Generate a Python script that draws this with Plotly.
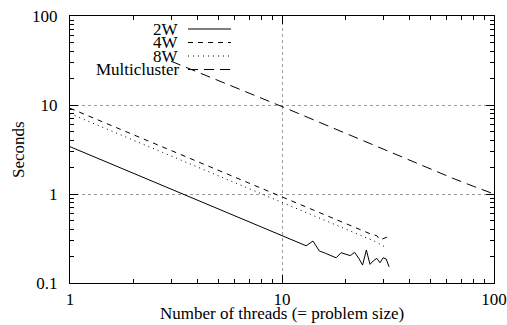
import plotly.graph_objects as go

# ---- data ----
x_2w = list(range(1, 33))
y_2w = [3.40, 1.70, 1.13, 0.85, 0.68, 0.567, 0.486, 0.425, 0.378, 0.345,
        0.309, 0.283, 0.262, 0.296, 0.229, 0.216, 0.204, 0.192, 0.219, 0.210,
        0.203, 0.221, 0.190, 0.159, 0.235, 0.162, 0.178, 0.189, 0.169, 0.192,
        0.186, 0.152]

x_4w = list(range(1, 33))
y_4w = [9.2, 4.6, 3.07, 2.30, 1.84, 1.53, 1.31, 1.15, 1.02, 0.92,
        0.84, 0.77, 0.71, 0.66, 0.61, 0.575, 0.54, 0.51, 0.485, 0.46,
        0.44, 0.42, 0.40, 0.385, 0.37, 0.358, 0.348, 0.34, 0.305, 0.315,
        0.325, 0.335]

x_8w = list(range(1, 32))
y_8w = [8.0, 4.0, 2.67, 2.0, 1.6, 1.33, 1.14, 1.0, 0.89, 0.80,
        0.73, 0.67, 0.62, 0.57, 0.53, 0.50, 0.47, 0.44, 0.42, 0.40,
        0.38, 0.36, 0.35, 0.33, 0.32, 0.31, 0.30, 0.285, 0.275, 0.262,
        0.25]

x_mc = [3, 4, 6, 8, 10, 12, 16, 20, 24, 32, 40, 48, 64, 80, 100]
y_mc = [31.0, 23.5, 16.0, 12.0, 9.6, 8.0, 6.0, 4.8, 4.0, 3.0, 2.35, 1.98, 1.5, 1.22, 1.0]

series_names = ["2W", "4W", "8W", "Multicluster"]
series_dash = ["solid", "5px,5px", "1px,4px", "10px,6px"]

x_ticks = [1, 10, 100]
x_tick_labels = ["1", "10", "100"]
y_ticks = [0.1, 1, 10, 100]
y_tick_labels = ["0.1", "1", "10", "100"]

x_title = "Number of threads (= problem size)"
y_title = "Seconds"

x_minor = [m * 10 ** d for d in range(0, 2) for m in range(2, 10)]
y_minor = [m * 10 ** d for d in range(-1, 2) for m in range(2, 10)]

FONT = "Liberation Serif, Times New Roman, serif"
FS = 17

fig = go.Figure()
for name, xs, ys, dash in zip(series_names,
                              [x_2w, x_4w, x_8w, x_mc],
                              [y_2w, y_4w, y_8w, y_mc],
                              series_dash):
    fig.add_trace(go.Scatter(x=xs, y=ys, mode="lines", name=name,
                             line=dict(color="black", width=1, dash=dash),
                             showlegend=False))

W, H = 507, 325
L, R, T, B = 70, 13, 16, 42
pw, ph = W - L - R, H - T - B

# gnuplot-style key: right aligned text followed by line sample
key_y = [29, 42.5, 56, 69.5]
for name, dash, ky in zip(series_names, series_dash, key_y):
    yp = (H - B - ky) / ph
    fig.add_annotation(x=(181 - L) / pw, y=yp, xref="paper", yref="paper",
                       text=name, showarrow=False, xanchor="right",
                       yanchor="middle", font=dict(family=FONT, size=FS, color="black"))
    fig.add_shape(type="line", xref="paper", yref="paper",
                  x0=(188 - L) / pw, x1=(231 - L) / pw, y0=yp, y1=yp,
                  line=dict(color="black", width=1, dash=dash))

# axis titles
fig.add_annotation(x=(282 - L) / pw, y=(H - B - 313) / ph, xref="paper", yref="paper",
                   text=x_title, showarrow=False, xanchor="center", yanchor="middle",
                   font=dict(family=FONT, size=FS, color="black"))
fig.add_annotation(x=(18 - L) / pw, y=(H - B - 150) / ph, xref="paper", yref="paper",
                   text=y_title, showarrow=False, xanchor="center", yanchor="middle",
                   textangle=-90, font=dict(family=FONT, size=FS, color="black"))

axis_common = dict(
    type="log", showline=True, linecolor="black", linewidth=1, mirror="allticks",
    ticks="inside", ticklen=8, tickcolor="black", tickwidth=1, automargin=False,
    showgrid=True, gridcolor="#9a9a9a", griddash="dot", gridwidth=1,
    zeroline=False, tickfont=dict(family=FONT, size=FS, color="black"),
)

fig.update_layout(
    width=W, height=H, autosize=False,
    margin=dict(l=L, r=R, t=T, b=B, autoexpand=False),
    paper_bgcolor="white", plot_bgcolor="white",
    font=dict(family=FONT, size=FS, color="black"),
    xaxis=dict(axis_common, range=[0, 2], tickmode="array", tickvals=x_ticks,
               ticktext=x_tick_labels, ticklabelstandoff=1,
               minor=dict(tickmode="array", tickvals=x_minor, ticks="inside",
                          ticklen=4, tickcolor="black", showgrid=False)),
    yaxis=dict(axis_common, range=[-1, 2], tickmode="array", tickvals=y_ticks,
               ticktext=y_tick_labels, ticklabelstandoff=8,
               minor=dict(tickmode="array", tickvals=y_minor, ticks="inside",
                          ticklen=4, tickcolor="black", showgrid=False)),
)

fig.write_html("out.html", config={"displayModeBar": False, "responsive": False},
               post_script="document.body.style.margin='0px';")
